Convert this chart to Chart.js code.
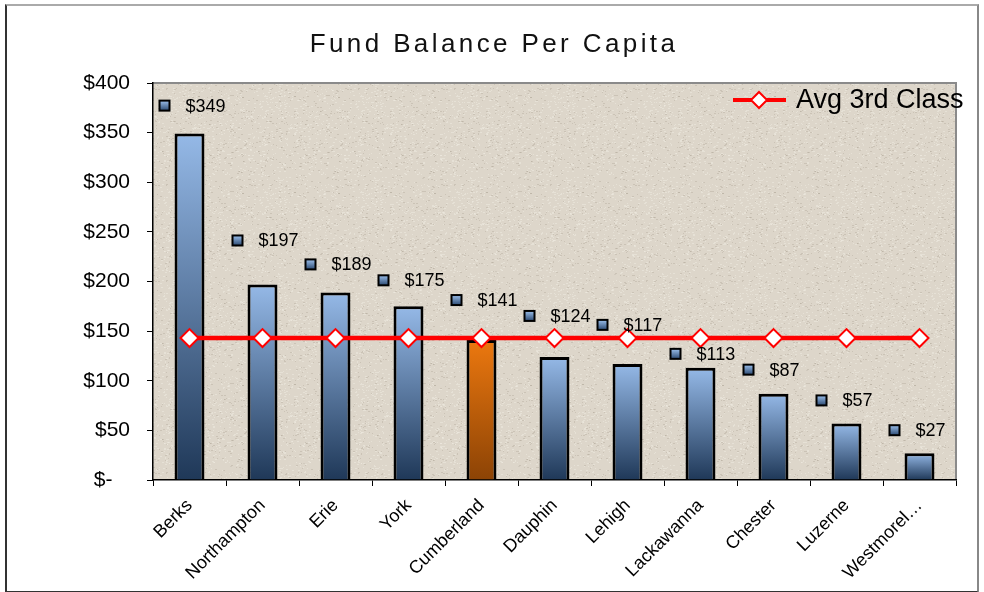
<!DOCTYPE html>
<html lang="en">
<head>
<meta charset="UTF-8">
<title>Fund Balance Per Capita</title>
<script src="https://cdn.jsdelivr.net/npm/chart.js"></script>
<style>
    body { margin: 0; background: #fff; font-family: 'Liberation Sans', Arial, sans-serif; }
    .frame {
        position: absolute; left: 5px; top: 4px; width: 974px; height: 589px;
        box-sizing: border-box;
        border-left: 2px solid #333; border-top: 2px solid #aaa;
        border-right: 2px solid #888; border-bottom: 2px solid #333;
    }
    .wrap { position: absolute; left: 0; top: 0; width: 984px; height: 592px; }
</style>
</head>
<body>
<div class="frame"></div>
<div class="wrap"><canvas id="chart" width="984" height="592"></canvas></div>
<script>
// data
const counties = ['Berks', 'Northampton', 'Erie', 'York', 'Cumberland', 'Dauphin',
                  'Lehigh', 'Lackawanna', 'Chester', 'Luzerne', 'Westmorel\u2026'];
const balancePerCapita = [349, 197, 189, 175, 141, 124, 117, 113, 87, 57, 27];
const avg3rdClass = [143, 143, 143, 143, 143, 143, 143, 143, 143, 143, 143];
const yTicks = [0, 50, 100, 150, 200, 250, 300, 350, 400];
const highlight = 'Cumberland';

// how far each value label sits above its bar (px), as placed in the original
const labelLift = [28, 44, 28, 26, 40, 41, 39, 14, 24, 23, 23];

const FONT = "'Liberation Sans', Arial, sans-serif";
Chart.defaults.font.family = FONT;
Chart.defaults.color = '#000';

// sandy paper texture for the plot area (fixed hash, not data)
function paperPattern(ctx) {
    const c = document.createElement('canvas');
    c.width = 96; c.height = 96;
    const p = c.getContext('2d');
    p.fillStyle = '#ddd6ca';
    p.fillRect(0, 0, 96, 96);
    for (let i = 0; i < 900; i++) {
        const h = Math.sin(i * 12.9898 + 78.233) * 43758.5453;
        const f = h - Math.floor(h);
        const h2 = Math.sin(i * 4.1414 + 1.7) * 24634.6345;
        const f2 = h2 - Math.floor(h2);
        const x = Math.floor(f * 96), y = Math.floor(f2 * 96);
        p.fillStyle = (i % 3 === 0) ? 'rgba(170,160,145,0.35)' : 'rgba(240,235,225,0.5)';
        p.fillRect(x, y, 1 + (i % 2), 1);
    }
    return ctx.createPattern(c, 'repeat');
}

function barFill(ctx) {
    const chart = ctx.chart;
    if (!chart.chartArea || ctx.type !== 'data') return '#6f95c8';
    const y = chart.scales.y;
    const top = y.getPixelForValue(ctx.parsed.y);
    const bottom = y.getPixelForValue(0);
    const g = chart.ctx.createLinearGradient(0, top, 0, bottom);
    const hot = counties[ctx.dataIndex] === highlight;
    g.addColorStop(0, hot ? '#ec780f' : '#95b9e7');
    g.addColorStop(1, hot ? '#8c4305' : '#1f3858');
    return g;
}

const backdrop = {
    id: 'backdrop',
    beforeDraw(chart) {
        const { ctx, chartArea: a } = chart;
        ctx.save();
        ctx.fillStyle = paperPattern(ctx);
        ctx.fillRect(a.left, a.top, a.right - a.left, a.bottom - a.top);
        ctx.strokeStyle = '#8a8a8a';
        ctx.lineWidth = 2;
        ctx.beginPath();
        ctx.moveTo(a.left, a.top);
        ctx.lineTo(a.right, a.top);
        ctx.lineTo(a.right, a.bottom);
        ctx.stroke();
        ctx.restore();
    }
};

const valueLabels = {
    id: 'valueLabels',
    afterDatasetsDraw(chart) {
        const ctx = chart.ctx;
        const meta = chart.getDatasetMeta(1);
        ctx.save();
        ctx.font = '18px ' + FONT;
        ctx.textBaseline = 'middle';
        ctx.textAlign = 'left';
        meta.data.forEach((bar, i) => {
            const y = bar.y - labelLift[i];
            const x = bar.x;
            const g = ctx.createLinearGradient(0, y - 5, 0, y + 5);
            g.addColorStop(0, '#9cc0ec');
            g.addColorStop(1, '#2c4a72');
            ctx.fillStyle = g;
            ctx.fillRect(x - 30, y - 5, 10, 10);
            ctx.strokeStyle = '#000';
            ctx.lineWidth = 2;
            ctx.strokeRect(x - 30, y - 5, 10, 10);
            ctx.fillStyle = '#000';
            ctx.fillText('$' + balancePerCapita[i], x - 4, y + 1);
        });
        ctx.restore();
    }
};

const extras = {
    id: 'extras',
    afterDraw(chart) {
        const { ctx, chartArea: a } = chart;
        ctx.save();
        // title
        ctx.font = '26px ' + FONT;
        ctx.letterSpacing = '3.4px';
        ctx.textAlign = 'center';
        ctx.textBaseline = 'alphabetic';
        ctx.fillStyle = '#111';
        ctx.fillText('Fund Balance Per Capita', chart.width / 2 + 2, 52);
        ctx.letterSpacing = '0px';
        // floating legend
        const ly = a.top + 17;
        ctx.strokeStyle = '#ff0000';
        ctx.lineWidth = 4;
        ctx.beginPath();
        ctx.moveTo(a.right - 223, ly);
        ctx.lineTo(a.right - 170, ly);
        ctx.stroke();
        const dx = a.right - 197;
        ctx.beginPath();
        ctx.moveTo(dx, ly - 8);
        ctx.lineTo(dx + 8, ly);
        ctx.lineTo(dx, ly + 8);
        ctx.lineTo(dx - 8, ly);
        ctx.closePath();
        ctx.fillStyle = '#fff';
        ctx.fill();
        ctx.lineWidth = 2;
        ctx.stroke();
        ctx.font = '27px ' + FONT;
        ctx.fillStyle = '#000';
        ctx.textAlign = 'left';
        ctx.textBaseline = 'middle';
        ctx.fillText('Avg 3rd Class', a.right - 160, ly + 1);
        ctx.restore();
    }
};

new Chart(document.getElementById('chart'), {
    type: 'bar',
    data: {
        labels: counties,
        datasets: [{
            type: 'line',
            label: 'Avg 3rd Class',
            data: avg3rdClass,
            borderColor: '#ff0000',
            borderWidth: 4.5,
            pointStyle: 'rectRot',
            pointRadius: 9,
            pointBackgroundColor: '#fff',
            pointBorderColor: '#ff0000',
            pointBorderWidth: 2,
            order: 0
        }, {
            label: 'Fund Balance Per Capita',
            data: balancePerCapita,
            backgroundColor: barFill,
            borderColor: '#000',
            borderWidth: 3,
            categoryPercentage: 1,
            barPercentage: 0.41,
            order: 1
        }]
    },
    options: {
        responsive: false,
        animation: false,
        layout: { padding: { top: 83, right: 28, left: 0, bottom: 0 } },
        plugins: {
            legend: { display: false },
            title: { display: false },
            tooltip: { enabled: false }
        },
        scales: {
            x: {
                ticks: { maxRotation: 45, minRotation: 45, autoSkip: false, font: { size: 18 }, color: '#000', padding: 9 },
                grid: { drawOnChartArea: false, tickLength: 6, color: '#000', offset: true },
                border: { color: '#000', width: 1.5 },
                afterFit: s => { s.height = 112; }
            },
            y: {
                min: 0,
                max: 400,
                afterBuildTicks: s => { s.ticks = yTicks.map(v => ({ value: v })); },
                ticks: { callback: v => v === 0 ? '$-   ' : '$' + v, font: { size: 21 }, color: '#000', padding: 17 },
                grid: { drawOnChartArea: false, tickLength: 6, color: '#000' },
                border: { color: '#000', width: 1.5 },
                afterFit: s => { s.width = 153; }
            }
        }
    },
    plugins: [backdrop, valueLabels, extras]
});
</script>
</body>
</html>
